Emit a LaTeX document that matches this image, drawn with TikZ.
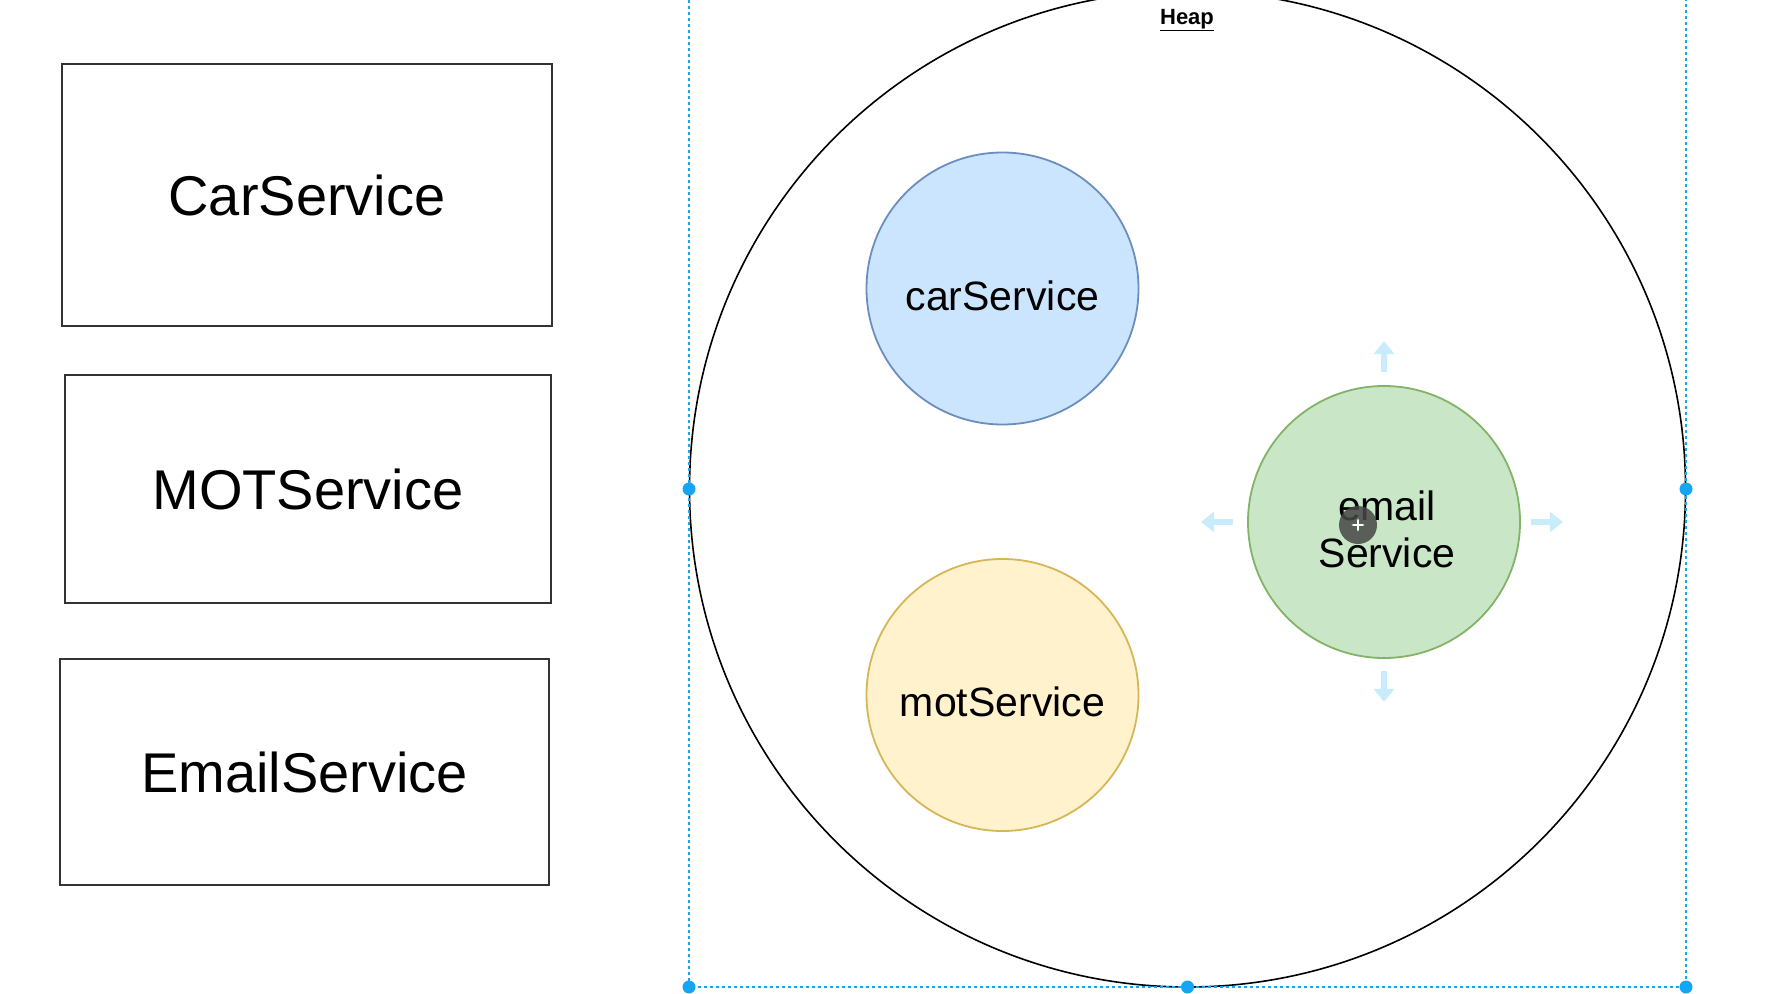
\documentclass[tikz,border=0pt]{standalone}
\usepackage{fontspec}
\setmainfont{Liberation Sans}
\usetikzlibrary{arrows.meta}
\definecolor{boxgray}{HTML}{333333}
\definecolor{cblueF}{HTML}{CCE5FF}
\definecolor{cblueD}{HTML}{6C8EBF}
\definecolor{cyelF}{HTML}{FFF2CC}
\definecolor{cyelD}{HTML}{D6B656}
\definecolor{cgrnF}{HTML}{C9E6C6}
\definecolor{cgrnD}{HTML}{82B366}
\definecolor{selblue}{RGB}{20,165,245}
\definecolor{hintblue}{RGB}{200,236,252}
\tikzset{
  svcbox/.style={draw=boxgray, line width=2.2pt, inner sep=0pt, font=\fontsize{56}{60}\selectfont},
  svccirc/.style={circle, line width=1.8pt, minimum size=272pt, inner sep=0pt},
  circlbl/.style={inner sep=0pt, font=\fontsize{41}{47}\selectfont, align=center},
  handle/.style={circle, fill=selblue, inner sep=0pt, minimum size=13pt},
  sel/.style={draw=selblue, line width=1.6pt, dash pattern=on 3pt off 3pt},
  hint/.style={draw=hintblue, line width=6pt, -{Triangle[length=13pt,width=20pt]}},
}
\begin{document}
\begin{tikzpicture}[x=1pt,y=-1pt]
\useasboundingbox (0,0) rectangle (1774,993);
\fill[white] (0,0) rectangle (1774,993);

% class boxes
\node[svcbox, minimum width=490pt, minimum height=262pt] (carBox) at (307,195) {CarService};
\node[svcbox, minimum width=486pt, minimum height=228pt] (motBox) at (308,489) {MOTService};
\node[svcbox, minimum width=489pt, minimum height=226pt] (emailBox) at (304.5,772) {EmailService};

% heap
\node[draw=black, circle, line width=1.6pt, minimum size=996pt, inner sep=0pt] (heap) at (1187.5,489) {};
\node[inner sep=0pt, font=\bfseries\fontsize{22}{24}\selectfont] (heapLbl) at (1187,20) {\underline{Heap}};

% selection frame
\draw[sel] (689,-30) rectangle (1686,987);
\node[handle] (hL) at (689,489) {};
\node[handle] (hR) at (1686,489) {};
\node[handle] (hB) at (1187.5,987) {};
\node[handle] (hBL) at (689,987) {};
\node[handle] (hBR) at (1686,987) {};

% objects
\node[svccirc, fill=cblueF, draw=cblueD] (carSvc) at (1002.5,288.5) {};
\node[circlbl] (carSvcLbl) at (1002.5,296) {carService};
\node[svccirc, fill=cyelF, draw=cyelD] (motSvc) at (1002.5,695) {};
\node[circlbl] (motSvcLbl) at (1002.5,702) {motService};
\node[svccirc, fill=cgrnF, draw=cgrnD] (emailSvc) at (1384,522) {};
\node[circlbl] (emailSvcLbl) at (1387,529) {email\\Service};

% hint arrows
\draw[hint] ([yshift=13pt]emailSvc.north) -- ([yshift=44pt]emailSvc.north);
\draw[hint] ([yshift=-12pt]emailSvc.south) -- ([yshift=-43pt]emailSvc.south);
\draw[hint] ([xshift=-14pt]emailSvc.west) -- ([xshift=-46pt]emailSvc.west);
\draw[hint] ([xshift=10pt]emailSvc.east) -- ([xshift=42pt]emailSvc.east);

% cursor
\node[circle, fill=black!72, opacity=0.85, minimum size=38pt, inner sep=0pt] (cursor) at (1358,525) {};
\draw[white, line width=1.2pt, {Latex[length=3pt]}-{Latex[length=3pt]}] ([xshift=-7pt]cursor.center) -- ([xshift=7pt]cursor.center);
\draw[white, line width=1.2pt, {Latex[length=3pt]}-{Latex[length=3pt]}] ([yshift=-7pt]cursor.center) -- ([yshift=7pt]cursor.center);
\end{tikzpicture}
\end{document}
